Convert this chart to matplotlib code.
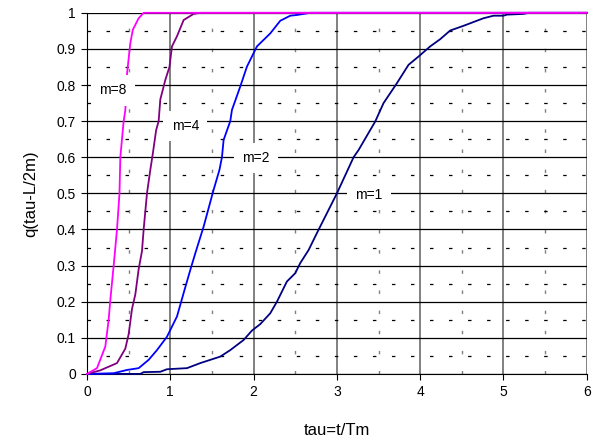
import matplotlib
matplotlib.use("Agg")
from matplotlib import pyplot as plt, rcParams
from matplotlib.ticker import MultipleLocator

rcParams["font.family"] = ["Liberation Sans", "DejaVu Sans"]
rcParams["lines.scale_dashes"] = False

# m=1 curve
tau_m1 = [0, 0.64, 0.68, 0.88, 0.96, 1.2, 1.36, 1.6, 1.72, 1.88, 1.98, 2.08, 2.2, 2.28,
          2.4, 2.5, 2.56, 2.66, 2.76, 3.0, 3.2, 3.26, 3.46, 3.56, 3.72, 3.86, 3.98,
          4.12, 4.24, 4.36, 4.52, 4.76, 4.88, 5.0, 5.04, 5.24, 5.3, 6.0]
q_m1 = [0, 0, 0.005, 0.006, 0.013, 0.016, 0.03, 0.048, 0.066, 0.094, 0.12, 0.138, 0.168, 0.2,
        0.256, 0.279, 0.307, 0.343, 0.39, 0.5, 0.6, 0.62, 0.699, 0.75, 0.805, 0.856, 0.879,
        0.907, 0.927, 0.951, 0.964, 0.985, 0.992, 0.992, 0.995, 0.997, 1.0, 1.0]

# m=2 curve
tau_m2 = [0, 0.32, 0.48, 0.62, 0.74, 0.84, 0.96, 1.08, 1.16, 1.24, 1.3, 1.4, 1.52, 1.59,
          1.62, 1.64, 1.72, 1.74, 1.84, 1.92, 2.04, 2.2, 2.32, 2.44, 2.52, 2.68, 6.0]
q_m2 = [0, 0.002, 0.011, 0.016, 0.039, 0.066, 0.103, 0.159, 0.224, 0.288, 0.334, 0.408, 0.51, 0.565,
        0.6, 0.648, 0.7, 0.731, 0.796, 0.851, 0.907, 0.943, 0.978, 0.992, 0.994, 1.0, 1.0]

# m=4 curve
tau_m4 = [0, 0.16, 0.36, 0.46, 0.5, 0.54, 0.58, 0.62, 0.66, 0.68, 0.72, 0.76, 0.79, 0.83,
          0.86, 0.88, 0.94, 0.99, 1.02, 1.08, 1.16, 1.28, 1.36, 6.0]
q_m4 = [0, 0.01, 0.03, 0.07, 0.11, 0.18, 0.22, 0.29, 0.34, 0.4, 0.5, 0.565, 0.61, 0.675,
        0.7, 0.76, 0.814, 0.85, 0.907, 0.935, 0.98, 0.997, 1.0, 1.0]

# m=8 curve
tau_m8 = [0, 0.12, 0.22, 0.26, 0.28, 0.32, 0.36, 0.39, 0.4, 0.44, 0.46, 0.48, 0.52, 0.55,
          0.62, 0.68, 6.0]
q_m8 = [0, 0.016, 0.076, 0.15, 0.205, 0.3, 0.4, 0.5, 0.6, 0.7, 0.73, 0.83, 0.916, 0.953,
        0.985, 1.0, 1.0]

curves = [
    (tau_m1, q_m1, "#000080"),
    (tau_m2, q_m2, "#0000FF"),
    (tau_m4, q_m4, "#800080"),
    (tau_m8, q_m8, "#FF00FF"),
]
labels = ["m=1", "m=2", "m=4", "m=8"]
label_pos = [(3.38, 0.496), (2.03, 0.598), (1.18, 0.687), (0.31, 0.785)]

fig = plt.figure(figsize=(6, 4.42), dpi=100)
ax = fig.add_axes([0.145, 0.154, 0.833, 0.817])

ax.set_xlim(0, 6)
ax.set_ylim(0, 1)
ax.xaxis.set_major_locator(MultipleLocator(1))
ax.xaxis.set_minor_locator(MultipleLocator(0.5))
ax.yaxis.set_major_locator(MultipleLocator(0.1))
ax.yaxis.set_minor_locator(MultipleLocator(0.05))
ax.set_yticks([i / 10 for i in range(11)])
ax.set_yticklabels(["0", "0.1", "0.2", "0.3", "0.4", "0.5", "0.6", "0.7", "0.8", "0.9", "1"])

ax.grid(axis="y", which="major", color="black", lw=0.9, ls="-")
ax.grid(axis="y", which="minor", color="black", lw=0.9, ls=(0, (2.5, 11.2)))
ax.grid(axis="x", which="major", color="#808080", lw=1.4, ls="-")
ax.grid(axis="x", which="minor", color="#808080", lw=1.0, ls=(0, (2.5, 12)))
ax.set_axisbelow(True)

for x, y, c in curves:
    ax.plot(x, y, color=c, lw=1.3, clip_on=False, zorder=3)

for txt, (lx, ly) in zip(labels, label_pos):
    ax.text(lx, ly, txt, fontsize=10, ha="center", va="center", zorder=4,
            bbox=dict(boxstyle="square,pad=0.6", fc="white", ec="none"))

for s in ["top", "right"]:
    ax.spines[s].set_visible(False)
ax.spines["left"].set_color("black")
ax.spines["bottom"].set_color("black")
ax.tick_params(which="major", direction="out", length=4, labelsize=10, pad=4)
ax.tick_params(which="minor", length=0)

ax.set_xlabel("tau=t/Tm", fontsize=12, labelpad=17)
ax.set_ylabel("q(tau-L/2m)", fontsize=12, labelpad=13)

fig.savefig("out.png", dpi=100)
